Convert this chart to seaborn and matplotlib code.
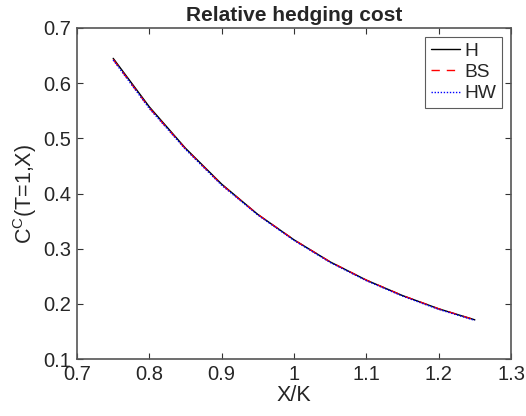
import matplotlib
matplotlib.use("Agg")
import matplotlib.pyplot as plt
import seaborn as sns
import pandas as pd

x_vals = [0.75, 0.80, 0.85, 0.90, 0.95, 1.00, 1.05, 1.10, 1.15, 1.20, 1.25]
h_vals = [0.645, 0.557, 0.482, 0.417, 0.362, 0.316, 0.276, 0.243, 0.215, 0.191, 0.171]
bs_vals = [0.643, 0.555, 0.481, 0.416, 0.362, 0.316, 0.276, 0.243, 0.215, 0.191, 0.171]
hw_vals = [0.642, 0.554, 0.480, 0.415, 0.361, 0.315, 0.275, 0.242, 0.214, 0.190, 0.170]
series_names = ["H", "BS", "HW"]
x_ticks = [0.7, 0.8, 0.9, 1.0, 1.1, 1.2, 1.3]
x_tick_labels = ["0.7", "0.8", "0.9", "1", "1.1", "1.2", "1.3"]
y_ticks = [0.1, 0.2, 0.3, 0.4, 0.5, 0.6, 0.7]
y_tick_labels = ["0.1", "0.2", "0.3", "0.4", "0.5", "0.6", "0.7"]

sns.set_theme(style="white")
plt.rcParams['font.family'] = ['Liberation Sans', 'DejaVu Sans']
plt.rcParams['mathtext.fontset'] = 'custom'
plt.rcParams['mathtext.rm'] = 'Liberation Sans'

df = pd.DataFrame({
    "x": x_vals * 3,
    "y": h_vals + bs_vals + hw_vals,
    "series": [series_names[0]] * len(x_vals) + [series_names[1]] * len(x_vals) + [series_names[2]] * len(x_vals),
})

fig = plt.figure(figsize=(5.26, 4.16), dpi=100)
ax = fig.add_axes([0.1464, 0.137, 0.8251, 0.7957])

styles = {"H": ("black", "-"), "BS": ("red", (0, (6, 5))), "HW": ("blue", (0, (1, 1.2)))}
for name in series_names:
    c, ls = styles[name]
    sns.lineplot(data=df[df["series"] == name], x="x", y="y", ax=ax, color=c,
                 linestyle=ls, linewidth=1.0, label=name)

ax.set_xlim(0.7, 1.3)
ax.set_ylim(0.1, 0.7)
ax.set_xticks(x_ticks)
ax.set_xticklabels(x_tick_labels)
ax.set_yticks(y_ticks)
ax.set_yticklabels(y_tick_labels)
ax.tick_params(direction="in", length=4, width=0.8, color="#333333", labelsize=14.5,
               top=True, right=True, bottom=True, left=True, pad=4)
for sp in ax.spines.values():
    sp.set_visible(True)
    sp.set_color("#555555")
    sp.set_linewidth(1.2)

ax.set_xlabel("X/K", fontsize=15.5, labelpad=1)
ax.set_ylabel(r"C$^\mathregular{C}$(T=1,X)", fontsize=15.5, labelpad=3)
ax.set_title("Relative hedging cost", fontsize=15, fontweight="bold", pad=5)

leg = ax.legend(loc="upper right", fontsize=13.8, frameon=True, fancybox=False,
                handlelength=1.5, handletextpad=0.25, borderpad=0.3, labelspacing=0.2,
                borderaxespad=0.45)
leg.get_frame().set_edgecolor("#333333")
leg.get_frame().set_linewidth(0.8)

fig.savefig("out.png", dpi=100)
